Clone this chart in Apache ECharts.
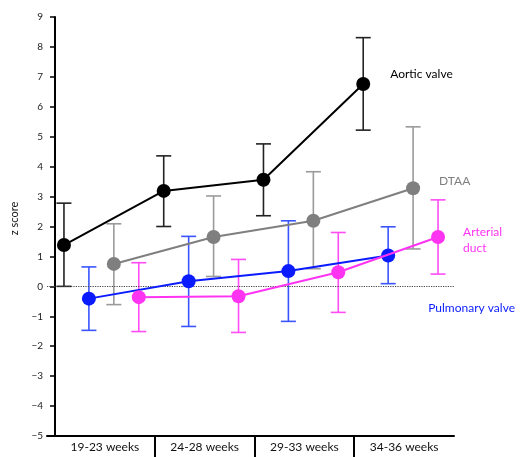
<!DOCTYPE html>
<html>
<head>
<meta charset="utf-8">
<script src="https://cdn.jsdelivr.net/npm/echarts@6/dist/echarts.min.js"></script>
<style>
  html, body { margin: 0; padding: 0; background: #fff; }
  #chart { width: 522px; height: 457px; }
</style>
</head>
<body>
<div id="chart"></div>
<script>
// gestational age groups
var categories = ['19-23 weeks', '24-28 weeks', '29-33 weeks', '34-36 weeks'];
var yTicks = [-5, -4, -3, -2, -1, 0, 1, 2, 3, 4, 5, 6, 7, 8, 9];

// z score mean and error bar ends per group
var aorticMean = [1.38, 3.19, 3.56, 6.76];
var aorticLow  = [0.00, 2.00, 2.36, 5.22];
var aorticHigh = [2.78, 4.36, 4.76, 8.31];

var dtaaMean = [0.75, 1.65, 2.19, 3.28];
var dtaaLow  = [-0.61, 0.33, 0.59, 1.25];
var dtaaHigh = [2.09, 3.02, 3.83, 5.33];

var pulmMean = [-0.41, 0.17, 0.51, 1.03];
var pulmLow  = [-1.47, -1.34, -1.17, 0.09];
var pulmHigh = [0.65, 1.67, 2.19, 1.99];

var ductMean = [-0.36, -0.33, 0.47, 1.65];
var ductLow  = [-1.51, -1.54, -0.87, 0.41];
var ductHigh = [0.79, 0.90, 1.80, 2.89];

var FONT = 'Lato';

function pts(mean, off) {
    return mean.map(function (v, i) { return [i + off, v]; });
}
function bars(low, high, off) {
    return low.map(function (v, i) { return [i + off, v, high[i]]; });
}

function errorSeries(low, high, off, color) {
    return {
        type: 'custom',
        z: 1,
        silent: true,
        data: bars(low, high, off),
        renderItem: function (params, api) {
            var x = api.value(0);
            var lo = api.coord([x, api.value(1)]);
            var hi = api.coord([x, api.value(2)]);
            var w = 7.5;
            var st = { stroke: color, lineWidth: 1.6 };
            return {
                type: 'group',
                children: [
                    { type: 'line', shape: { x1: lo[0], y1: lo[1], x2: hi[0], y2: hi[1] }, style: st },
                    { type: 'line', shape: { x1: lo[0] - w, y1: lo[1], x2: lo[0] + w, y2: lo[1] }, style: st },
                    { type: 'line', shape: { x1: hi[0] - w, y1: hi[1], x2: hi[0] + w, y2: hi[1] }, style: st }
                ]
            };
        }
    };
}

function lineSeries(name, mean, off, color, z, label, offset) {
    return {
        name: name,
        type: 'line',
        z: z,
        data: pts(mean, off),
        symbol: 'circle',
        symbolSize: 14,
        lineStyle: { color: color, width: 2 },
        itemStyle: { color: color },
        endLabel: {
            show: true,
            formatter: label,
            distance: 0,
            offset: offset,
            color: color,
            fontFamily: FONT,
            fontSize: 12,
            lineHeight: 16,
            align: 'left'
        },
        animation: false
    };
}

var chart = echarts.init(document.getElementById('chart'));

var option = {
    animation: false,
    backgroundColor: '#fff',
    grid: { left: 47, right: 68, top: 17, bottom: 21, outerBoundsMode: 'none' },
    xAxis: {
        type: 'value',
        min: -0.08,
        max: 4.0,
        splitLine: { show: false },
        axisLine: { show: true, onZero: false, lineStyle: { color: '#000', width: 2 } },
        axisTick: {
            show: true,
            customValues: [1, 2, 3],
            length: 21,
            lineStyle: { color: '#000', width: 2 }
        },
        axisLabel: {
            customValues: [0.5, 1.5, 2.5, 3.5],
            formatter: function (v) { return categories[Math.floor(v)]; },
            color: '#111',
            fontFamily: FONT,
            fontSize: 12,
            margin: 5
        }
    },
    yAxis: {
        type: 'value',
        min: yTicks[0],
        max: yTicks[yTicks.length - 1],
        interval: 1,
        name: 'z score',
        nameLocation: 'middle',
        nameGap: 27,
        nameMoveOverlap: false,
        nameRotate: 90,
        nameTextStyle: { color: '#111', fontFamily: FONT, fontSize: 11, padding: [0, 0, 0, 16] },
        splitLine: { show: false },
        axisLine: { show: true, lineStyle: { color: '#000', width: 2 } },
        axisTick: { show: true, length: 5, lineStyle: { color: '#000', width: 1.5 } },
        axisLabel: {
            color: '#222',
            fontFamily: FONT,
            fontSize: 10,
            margin: 4,
            formatter: function (v) { return v < 0 ? '\u2212' + Math.abs(v) : String(v); }
        }
    },
    series: [
        errorSeries(dtaaLow, dtaaHigh, 0.59, '#9a9a9a'),
        errorSeries(aorticLow, aorticHigh, 0.09, '#222222'),
        errorSeries(pulmLow, pulmHigh, 0.34, '#3a55ff'),
        errorSeries(ductLow, ductHigh, 0.84, '#ff4cf5'),
        lineSeries('DTAA', dtaaMean, 0.59, '#7f7f7f', 3, 'DTAA', [26, -7]),
        (function () {
            var s = lineSeries('Aortic valve', aorticMean, 0.09, '#000000', 4, 'Aortic valve', [27, -10]);
            s.markLine = {
                silent: true,
                symbol: 'none',
                label: { show: false },
                lineStyle: { color: '#444', type: 'dotted', width: 1.2 },
                data: [{ yAxis: 0 }]
            };
            return s;
        })(),
        lineSeries('Pulmonary valve', pulmMean, 0.34, '#0a1cff', 5, 'Pulmonary valve', [40, 53]),
        lineSeries('Arterial duct', ductMean, 0.84, '#ff33f2', 6, 'Arterial\nduct', [25, 3])
    ]
};

chart.setOption(option);
</script>
</body>
</html>
